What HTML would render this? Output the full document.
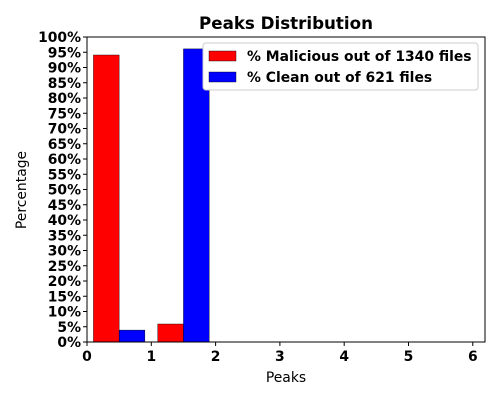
<!DOCTYPE html>
<html><head><meta charset="utf-8"><style>
body{margin:0;background:#fff;}
svg text{font-family:"DejaVu Sans","Liberation Sans",sans-serif;}
</style></head><body>
<svg id="chart" width="500" height="400"></svg>
<script>
const categories=[0,1];
const maliciousValues=[94.1,5.9];
const cleanValues=[3.9,96.1];
const xTicks=[0,1,2,3,4,5,6];
const yTicks=[0,5,10,15,20,25,30,35,40,45,50,55,60,65,70,75,80,85,90,95,100];
const L=87,R=485,T=37,B=342,XMAX=6.19;
const xs=v=>L+v/XMAX*(R-L);
const ys=v=>B-v/100*(B-T);
const svg=document.getElementById('chart');
const NS='http://www.w3.org/2000/svg';
function mk(tag,attrs,text){const e=document.createElementNS(NS,tag);for(const k in attrs)e.setAttribute(k,attrs[k]);if(text!==undefined)e.textContent=text;svg.appendChild(e);return e;}
let e;
e=mk('text',{x:286,y:29,'text-anchor':'middle','font-size':16.7,'font-weight':'bold'},'Peaks Distribution');


categories.forEach((c,i)=>{
 let r=mk('rect',{x:xs(c+0.1),y:ys(maliciousValues[i]),width:xs(c+0.5)-xs(c+0.1),height:B-ys(maliciousValues[i]),fill:'#ff0000',stroke:'#000','stroke-width':0.4});
 
 
 let b=mk('rect',{x:xs(c+0.5),y:ys(cleanValues[i]),width:xs(c+0.9)-xs(c+0.5),height:B-ys(cleanValues[i]),fill:'#0000ff',stroke:'#000','stroke-width':0.4});
 
 
});
e=mk('rect',{x:L,y:T,width:R-L,height:B-T,fill:'none',stroke:'#000','stroke-width':1});


xTicks.forEach(t=>{
 mk('line',{x1:xs(t),x2:xs(t),y1:B,y2:B+4,stroke:'#000'});
 let tx=mk('text',{x:xs(t),y:B+19,'text-anchor':'middle','font-size':13.9,'font-weight':'bold'},String(t));
 
 
});
yTicks.forEach(t=>{
 mk('line',{x1:L-4,x2:L,y1:ys(t),y2:ys(t),stroke:'#000'});
 let tx=mk('text',{x:L-6,y:ys(t)+5,'text-anchor':'end','font-size':13.9,'font-weight':'bold'},t+'%');
 
 
});
e=mk('text',{x:286,y:382,'text-anchor':'middle','font-size':13.9},'Peaks');


e=mk('text',{x:26,y:190,'text-anchor':'middle','font-size':13.9,transform:'rotate(-90 26 190)'},'Percentage');


e=mk('rect',{x:203,y:43,width:275,height:47,fill:'#fff',stroke:'#ccc',rx:3});


e=mk('rect',{x:209,y:51,width:27,height:10,fill:'#ff0000',stroke:'#000','stroke-width':0.4});


e=mk('text',{x:247,y:61,'font-size':13.9,'font-weight':'bold'},'% Malicious out of 1340 files');


e=mk('rect',{x:209,y:72,width:27,height:10,fill:'#0000ff',stroke:'#000','stroke-width':0.4});


e=mk('text',{x:247,y:82,'font-size':13.9,'font-weight':'bold'},'% Clean out of 621 files');


</script>
</body></html>
